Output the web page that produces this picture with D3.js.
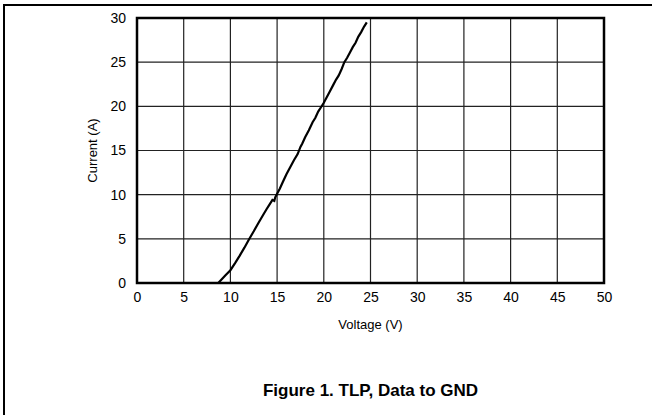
<!DOCTYPE html>
<html>
<head>
<meta charset="UTF-8">
<title>TLP, Data to GND</title>
<script src="https://d3js.org/d3.v7.min.js"></script>
<style>
body { margin: 0; background: #fff; }
svg { font-family: "Liberation Sans", Arial, sans-serif; }
</style>
</head>
<body>
<svg width="652" height="415"></svg>
<script>
// TLP curve
var voltage = [8.7, 9.0, 9.5, 10.0, 10.5, 11.0, 11.5, 12.0, 12.5, 13.0, 13.5, 13.9, 14.2, 14.5, 14.7, 14.8,
  15.0, 15.3, 15.6, 16.0, 16.4, 16.8, 17.2, 17.5, 17.7, 18.0, 18.4, 18.8, 19.1, 19.4, 19.7, 20.0,
  20.3, 20.6, 21.0, 21.3, 21.6, 21.9, 22.2, 22.5, 22.8, 23.1, 23.4, 23.7, 24.0, 24.3, 24.6];
var current = [0, 0.35, 0.9, 1.45, 2.25, 3.1, 4.0, 4.95, 5.85, 6.8, 7.7, 8.4, 8.9, 9.4, 9.3, 9.7,
  10.1, 10.7, 11.4, 12.3, 13.1, 13.9, 14.6, 15.4, 15.8, 16.5, 17.3, 18.2, 18.7, 19.4, 19.9, 20.4,
  21.0, 21.6, 22.4, 23.0, 23.5, 24.2, 25.0, 25.5, 26.1, 26.7, 27.2, 27.9, 28.4, 29.0, 29.5];
var xTicks = [0, 5, 10, 15, 20, 25, 30, 35, 40, 45, 50];
var yTicks = [0, 5, 10, 15, 20, 25, 30];

var data = voltage.map(function(v, i) { return {v: v, i: current[i]}; });

var svg = d3.select("svg");
var pLeft = 137, pRight = 604, pTop = 18, pBottom = 283;

var x = d3.scaleLinear().domain([0, 50]).range([pLeft, pRight]);
var y = d3.scaleLinear().domain([0, 30]).range([pBottom, pTop]);

// outer frame (top and left edges only)
svg.append("path")
    .attr("d", "M4,415V5H652")
    .attr("fill", "none")
    .attr("stroke", "#000")
    .attr("stroke-width", 2);

// grid
svg.append("g").selectAll("line")
    .data(xTicks.slice(1, -1))
  .enter().append("line")
    .attr("x1", function(d) { return x(d); })
    .attr("x2", function(d) { return x(d); })
    .attr("y1", pTop).attr("y2", pBottom)
    .attr("stroke", "#222").attr("stroke-width", 1.2);

svg.append("g").selectAll("line")
    .data(yTicks.slice(1, -1))
  .enter().append("line")
    .attr("y1", function(d) { return y(d); })
    .attr("y2", function(d) { return y(d); })
    .attr("x1", pLeft).attr("x2", pRight)
    .attr("stroke", "#222").attr("stroke-width", 1.2);

// axes, tick lines hidden
var xAxis = svg.append("g")
    .attr("transform", "translate(0," + pBottom + ")")
    .call(d3.axisBottom(x).tickValues(xTicks).tickSize(0).tickPadding(9));
var yAxis = svg.append("g")
    .attr("transform", "translate(" + pLeft + ",0)")
    .call(d3.axisLeft(y).tickValues(yTicks).tickSize(0).tickPadding(11));
[xAxis, yAxis].forEach(function(a) {
  a.select(".domain").remove();
  a.selectAll("text").attr("font-size", 14).attr("font-family", "Liberation Sans, Arial, sans-serif").attr("fill", "#000");
});

// plot box
svg.append("rect")
    .attr("x", pLeft).attr("y", pTop)
    .attr("width", pRight - pLeft).attr("height", pBottom - pTop)
    .attr("fill", "none").attr("stroke", "#000").attr("stroke-width", 2.5);

// curve
svg.append("path")
    .datum(data)
    .attr("fill", "none")
    .attr("stroke", "#000")
    .attr("stroke-width", 2.2)
    .attr("d", d3.line()
        .x(function(d) { return x(d.v); })
        .y(function(d) { return y(d.i); }));

svg.append("text")
    .attr("x", (pLeft + pRight) / 2).attr("y", 329)
    .attr("text-anchor", "middle").attr("font-size", 13)
    .text("Voltage (V)");

svg.append("text")
    .attr("transform", "translate(97," + (pTop + pBottom) / 2 + ") rotate(-90)")
    .attr("text-anchor", "middle").attr("font-size", 13)
    .text("Current (A)");

svg.append("text")
    .attr("x", (pLeft + pRight) / 2).attr("y", 396)
    .attr("text-anchor", "middle").attr("font-size", 17).attr("font-weight", "bold")
    .text("Figure 1. TLP, Data to GND");
</script>
</body>
</html>
